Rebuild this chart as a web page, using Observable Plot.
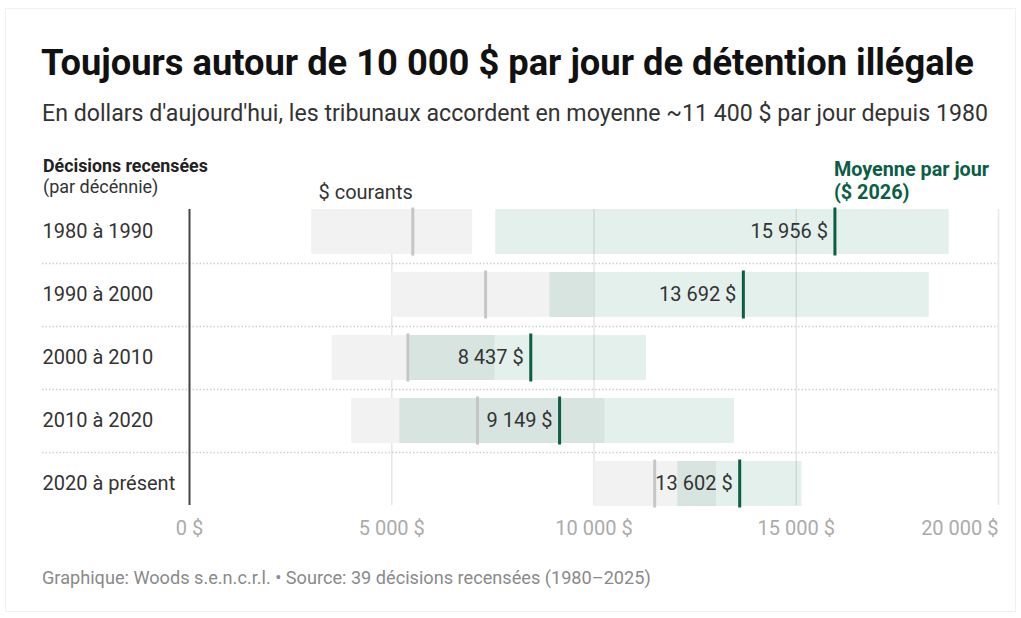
<!DOCTYPE html>
<html><head><meta charset="utf-8">
<script src="https://cdn.jsdelivr.net/npm/d3@7"></script>
<script src="https://cdn.jsdelivr.net/npm/@observablehq/plot@0.6"></script>
<style>
html,body{margin:0;padding:0;background:#fff;}
#wrap{position:relative;width:1021px;height:618px;font-family:Roboto,sans-serif;color:#222;overflow:hidden;}
#card{position:absolute;left:5px;top:8px;width:1011px;height:604px;border:1px solid #f1f1f1;box-sizing:border-box;}
.t{position:absolute;white-space:nowrap;line-height:1;}
#title{left:41px;top:44.5px;font-size:36.3px;font-weight:700;color:#111;}
#subtitle{left:42px;top:101.5px;font-size:23.15px;color:#333;}
#h1{left:43px;top:157px;font-size:17.8px;font-weight:700;color:#222;}
#h2{left:43px;top:178px;font-size:18px;color:#333;}
#caption{left:42px;top:569px;font-size:18.15px;color:#8a8a8a;}
#chart{position:absolute;left:0;top:140px;}
</style></head>
<body><div id="wrap">
<div id="card"></div>
<div class="t" id="title">Toujours autour de 10 000 $ par jour de détention illégale</div>
<div class="t" id="subtitle">En dollars d'aujourd'hui, les tribunaux accordent en moyenne ~11 400 $ par jour depuis 1980</div>
<div class="t" id="h1">Décisions recensées</div>
<div class="t" id="h2">(par décénnie)</div>
<div id="chart"></div>
<div class="t" id="caption">Graphique: Woods s.e.n.c.r.l. • Source: 39 décisions recensées (1980–2025)</div>
</div>
<script>
const decades = ["1980 à 1990", "1990 à 2000", "2000 à 2010", "2010 à 2020", "2020 à présent"];
const currentMin = [3020, 5000, 3530, 4010, 10020];
const currentMax = [7000, 10000, 7550, 10270, 13030];
const currentMean = [5520, 7320, 5400, 7120, 11500];
const adjMin = [7570, 8910, 5450, 5200, 12070];
const adjMax = [18780, 18290, 11300, 13470, 15140];
const adjMean = [15956, 13692, 8437, 9149, 13602];
const xTicks = [0, 5000, 10000, 15000, 20000];
const labelCurrent = "$ courants";
const labelAdj = "Moyenne par jour\n($ 2026)";

const rows = decades.map((d, i) => ({
  decade: d, cMin: currentMin[i], cMax: currentMax[i], cMean: currentMean[i],
  aMin: adjMin[i], aMax: adjMax[i], aMean: adjMean[i]
}));

const loc = d3.formatLocale({decimal: ",", thousands: "\u00a0", grouping: [3], currency: ["", "\u00a0$"]});
const fmt = loc.format("$,.0f");

const GREEN = "#0b5e45";

const plot = Plot.plot({
  width: 1021,
  height: 410,
  marginLeft: 189,
  marginRight: 23,
  marginTop: 59.5,
  marginBottom: 35.5,
  style: {fontFamily: "Roboto, sans-serif", fontSize: "20px", color: "#333", background: "transparent", overflow: "visible"},
  x: {domain: [0, 20000]},
  y: {domain: decades, padding: 0},
  marks: [
    Plot.ruleX(xTicks.slice(1), {stroke: "#e6e6e6", strokeWidth: 1.5, insetTop: 9.5, insetBottom: 9.5}),
    Plot.ruleY(decades.slice(1), {dy: -31.5, insetLeft: -147, stroke: "#cfcfcf", strokeWidth: 1.5, strokeDasharray: "1.5,2"}),
    Plot.barX(rows, {x1: "cMin", x2: "cMax", y: "decade", fill: "#f2f2f2", insetTop: 9, insetBottom: 9}),
    Plot.barX(rows, {x1: "aMin", x2: "aMax", y: "decade", fill: "#0f7b5c", fillOpacity: 0.115, insetTop: 9, insetBottom: 9}),
    Plot.ruleX([0], {stroke: "#444", strokeWidth: 2, insetTop: 9.5, insetBottom: 9.5}),
    Plot.tickX(rows, {x: "cMean", y: "decade", stroke: "#c6c6c6", strokeWidth: 3, insetTop: 7.5, insetBottom: 7.5}),
    Plot.tickX(rows, {x: "aMean", y: "decade", stroke: GREEN, strokeWidth: 3, insetTop: 7.5, insetBottom: 7.5}),
    Plot.text(rows, {x: "aMean", y: "decade", text: d => fmt(d.aMean), textAnchor: "end", dx: -7, fontSize: 20, fill: "#333"}),
    Plot.text([rows[0]], {x: "cMean", y: "decade", text: () => labelCurrent, textAnchor: "end", lineAnchor: "bottom", dy: -33, fontSize: 20, fill: "#333"}),
    Plot.text([rows[0]], {x: "aMean", y: "decade", text: () => labelAdj, textAnchor: "start", lineAnchor: "bottom", dy: -33, dx: -1, fontSize: 19.8, fontWeight: 700, fill: GREEN, lineHeight: 1.15}),
    Plot.axisY({tickSize: 0, tickPadding: 147, textAnchor: "start", fontSize: 20, fill: "#333", label: null}),
    Plot.axisX(xTicks.slice(0, -1), {tickSize: 0, tickPadding: 6, tickFormat: fmt, fontSize: 20, fill: "#ababab", label: null}),
    Plot.axisX(xTicks.slice(-1), {tickSize: 0, tickPadding: 6, tickFormat: fmt, fontSize: 20, fill: "#ababab", textAnchor: "end", label: null})
  ]
});
document.getElementById("chart").appendChild(plot);
</script>
</body></html>
